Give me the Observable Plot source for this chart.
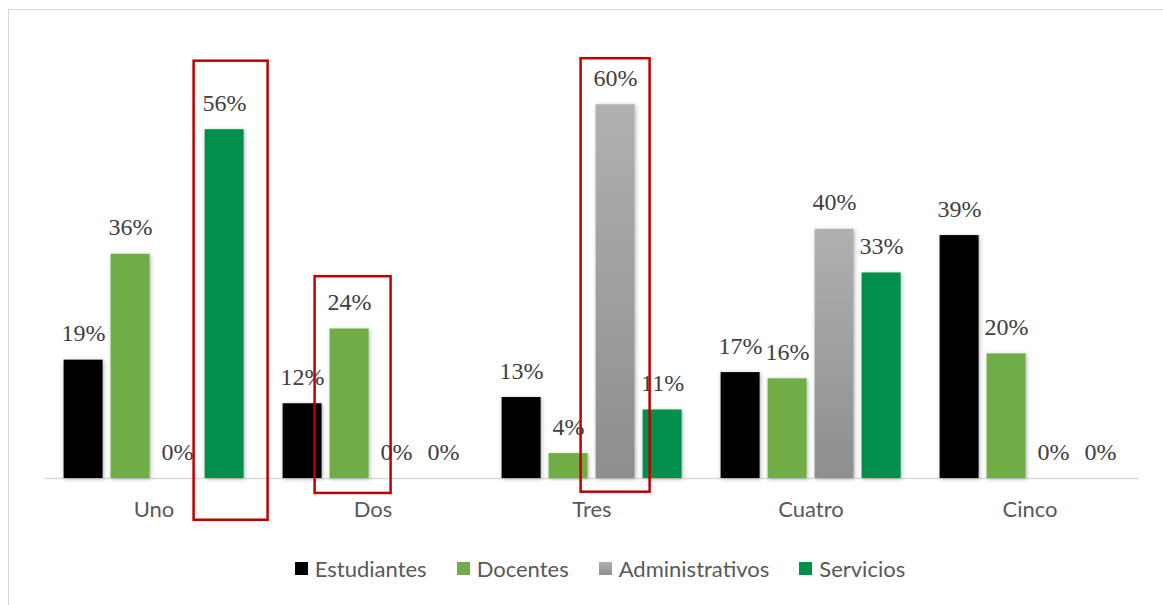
<!DOCTYPE html>
<html>
<head>
<meta charset="utf-8">
<script src="https://cdn.jsdelivr.net/npm/d3@7"></script>
<script src="https://cdn.jsdelivr.net/npm/@observablehq/plot@0.6"></script>
<style>
  html, body { margin: 0; padding: 0; background: #ffffff; }
  #wrap { position: relative; width: 1163px; height: 605px; overflow: hidden; }
  #frame { position: absolute; left: 8px; top: 9px; width: 1300px; height: 700px; border: 1px solid #d9d9d9; box-sizing: border-box; }
  #chart { position: absolute; left: 0; top: 0; }
  #legend { position: absolute; top: 555px; left: 0; width: 1200px; display: flex; justify-content: center;
            font-family: Lato, "Open Sans", sans-serif; font-size: 22px; color: #595959; }
  .item { display: flex; align-items: center; margin: 0 15px; }
  .sw { width: 13px; height: 13px; margin-right: 7px; }
</style>
</head>
<body>
<div id="wrap">
  <div id="frame"></div>
  <div id="chart"></div>
  <div id="legend"></div>
</div>
<script>
// ---- data ----
const categories = ["Uno", "Dos", "Tres", "Cuatro", "Cinco"];
const series = ["Estudiantes", "Docentes", "Administrativos", "Servicios"];
const estudiantes = [19, 12, 13, 17, 39];
const docentes = [36, 24, 4, 16, 20];
const administrativos = [0, 0, 60, 40, 0];
const servicios = [56, 0, 11, 33, 0];

// highlighted boxes (category, series, extent in %)
const boxCategories = ["Uno", "Dos", "Tres"];
const boxSeries = ["Servicios", "Docentes", "Administrativos"];
const boxTop = [67, 32.4, 67.4];
const boxBottom = [-6.7, -2.4, -2.2];

// ---- styles ----
const seriesColors = ["#000000", "#70AD47", "url(#gradAdm)", "#00904C"];
const legendSwatches = ["#000000", "#70AD47", "linear-gradient(#b0b0b0, #8e8e8e)", "#00904C"];
const boxInsets = [[-11, -24], [-15, -22], [-15, -15]];

const valuesBySeries = [estudiantes, docentes, administrativos, servicios];
const rows = [];
categories.forEach((c, i) => series.forEach((s, j) => rows.push({category: c, series: s, value: valuesBySeries[j][i]})));
const boxes = boxCategories.map((c, i) => ({category: c, series: boxSeries[i], top: boxTop[i], bottom: boxBottom[i]}));

const boxMarks = boxes.map((b, i) => Plot.barY([b], {
  fx: "category", x: "series", y1: "bottom", y2: "top",
  fill: "none", stroke: "#C00000", strokeWidth: 2.5,
  insetLeft: boxInsets[i][0], insetRight: boxInsets[i][1]
}));

const plot = Plot.plot({
  width: 1163,
  height: 540,
  marginLeft: 43.4,
  marginRight: 23.4,
  marginTop: 42,
  marginBottom: 62,
  fx: {domain: categories, padding: 0, axis: null},
  x: {domain: series, axis: null, paddingInner: 0.18, paddingOuter: 0.4},
  y: {domain: [0, 70], axis: null},
  color: {domain: series, range: seriesColors},
  marks: [
    Plot.ruleY([0], {stroke: "#d9d9d9", strokeWidth: 1.5}),
    Plot.barY(rows, {fx: "category", x: "series", y: "value", fill: "series"}),
    Plot.text(rows, {
      fx: "category", x: "series", y: "value",
      text: d => d.value + "%",
      lineAnchor: "bottom", dy: -19,
      fontFamily: "Liberation Serif, Times New Roman, serif", fontSize: 24, fill: "#404040"
    }),
    ...boxMarks,
    Plot.axisFx({anchor: "bottom", tickSize: 0, tickPadding: 23, fontSize: 22, fontFamily: "Lato, 'Open Sans', sans-serif", color: "#595959", label: null})
  ]
});

// gradient + shadow defs
const defs = d3.create("svg:defs");
const grad = defs.append("linearGradient").attr("id", "gradAdm").attr("x1", 0).attr("y1", 0).attr("x2", 0).attr("y2", 1);
grad.append("stop").attr("offset", "0%").attr("stop-color", "#b0b0b0");
grad.append("stop").attr("offset", "100%").attr("stop-color", "#8e8e8e");
const f = defs.append("filter").attr("id", "shadow").attr("x", "-30%").attr("y", "-10%").attr("width", "160%").attr("height", "120%");
f.append("feDropShadow").attr("dx", 1).attr("dy", 1).attr("stdDeviation", 2).attr("flood-color", "#000").attr("flood-opacity", 0.3);
plot.insertBefore(defs.node(), plot.firstChild);
plot.querySelectorAll("rect[fill]").forEach(r => { if (r.getAttribute("fill") !== "none") r.setAttribute("filter", "url(#shadow)"); });

document.getElementById("chart").appendChild(plot);

// legend
const legend = d3.select("#legend");
series.forEach((s, i) => {
  const it = legend.append("div").attr("class", "item");
  it.append("div").attr("class", "sw").style("background", legendSwatches[i]);
  it.append("span").text(s);
});
</script>
</body>
</html>
